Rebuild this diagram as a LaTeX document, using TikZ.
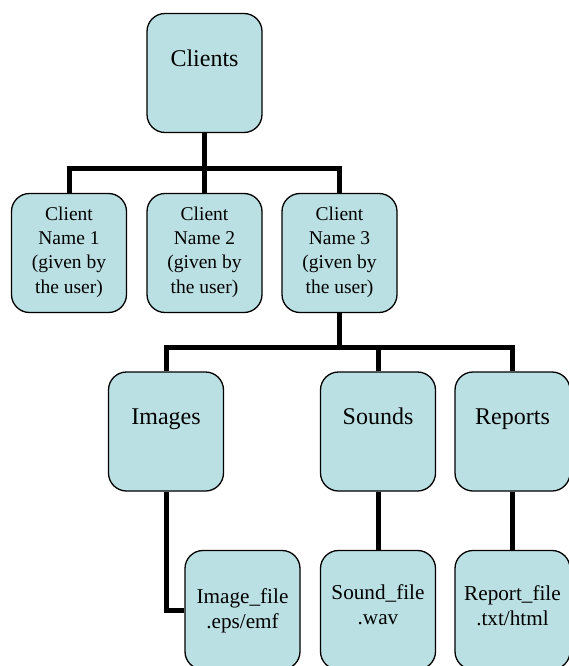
\documentclass[tikz,border=0pt]{standalone}
\usepackage{fontspec}
\setmainfont{Liberation Serif}
\definecolor{boxfill}{RGB}{187,224,227}
\tikzset{
  box/.style={draw=black, line width=1.3pt, fill=boxfill, rounded corners=18pt,
    minimum width=115pt, minimum height=119pt, inner sep=0pt},
  bigtxt/.style={font=\fontsize{24}{29}\selectfont, inner sep=0pt, text height=0.7em, text depth=0.2em},
  nametxt/.style={font=\fontsize{19.5}{24.4}\selectfont, align=center, inner sep=0pt},
  filetxt/.style={font=\fontsize{21.2}{25}\selectfont, align=center, inner sep=0pt},
  link/.style={line width=5pt, line join=miter, draw=black}
}
\begin{document}
\begin{tikzpicture}[x=1pt,y=-1pt]
\useasboundingbox (0,0) rectangle (569,666);
\clip (0,0) rectangle (569,666);
\fill[white] (0,0) rectangle (569,666);
% boxes
\node[box] (clients) at (204.5,73) {};
\node[box] (c1) at (69,253) {};
\node[box] (c2) at (204.5,253) {};
\node[box] (c3) at (339.5,253) {};
\node[box] (images) at (166,431.5) {};
\node[box] (sounds) at (378,431.5) {};
\node[box] (reports) at (512.5,431.5) {};
\node[box] (imgfile) at (242.5,610) {};
\node[box] (sndfile) at (378,610) {};
\node[box] (repfile) at (512.5,610) {};
% junctions
\coordinate (j1) at (204.5,168);
\coordinate (j2) at (339.5,347);
% connectors
\draw[link] (clients.south) -- (c2.north);
\draw[link] (c1.north) |- (j1) -| (c3.north);
\draw[link] (c3.south) -- (j2);
\draw[link] (images.north) |- (j2) -| (reports.north);
\draw[link] (sounds.north) |- (j2);
\draw[link] (images.south) |- (imgfile.west);
\draw[link] (sounds.south) -- (sndfile.north);
\draw[link] (reports.south) -- (repfile.north);
% texts
\node[bigtxt] (tclients) at (204.5,64) {Clients};
\node[nametxt] (tc1) at (69,252) {Client\\Name 1\\(given by\\the user)};
\node[nametxt] (tc2) at (204.5,252) {Client\\Name 2\\(given by\\the user)};
\node[nametxt] (tc3) at (339.5,252) {Client\\Name 3\\(given by\\the user)};
\node[bigtxt] (timages) at (166,422) {Images};
\node[bigtxt] (tsounds) at (378,422) {Sounds};
\node[bigtxt] (treports) at (512.5,422) {Reports};
\node[filetxt] (timgfile) at (242.5,611) {Image\_file\\.eps/emf};
\node[filetxt] (tsndfile) at (378,605) {Sound\_file\\.wav};
\node[filetxt] (trepfile) at (512.5,605.5) {Report\_file\\.txt/html};
\end{tikzpicture}
\end{document}
